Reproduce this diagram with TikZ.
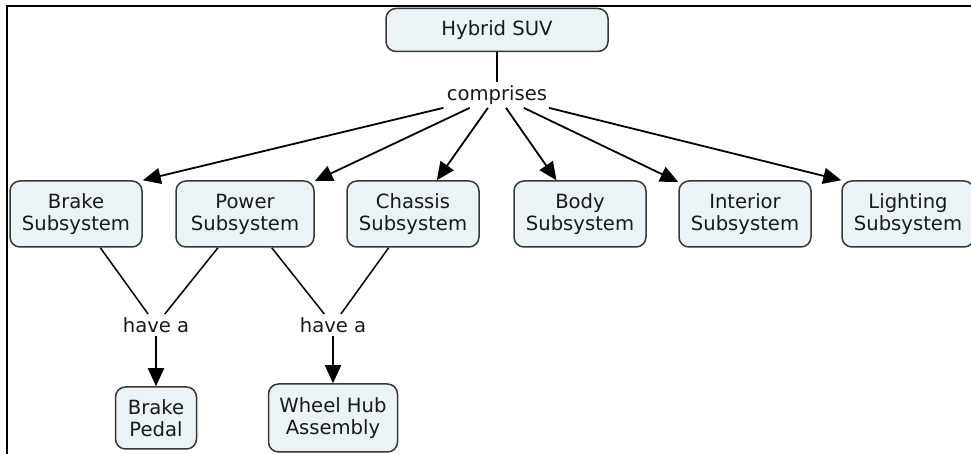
\documentclass[tikz,border=0pt]{standalone}
\usepackage{fontspec}
\setmainfont{DejaVu Sans}
\usepackage{tikz}
\usetikzlibrary{arrows.meta, positioning}
\newcommand{\conceptfont}{\fontsize{9.8}{11}\selectfont}
\tikzset{
    conceptnode/.style = {draw=bordergray, fill=conceptfill, rectangle, rounded corners=5pt, line width=0.75pt,
      inner sep=0pt, minimum width=66pt, minimum height=33pt, node distance=0em, font=\conceptfont, text=textgray},
    linknode/.style = {draw=none, fill=none, rectangle, inner sep=1.5pt, node distance=0em,
      font=\conceptfont, text=textgray},
    connect/.style = {black, line width=0.9pt, -{Triangle[length=9pt, width=8pt]}},
    plain/.style = {black, line width=0.75pt, -},
    every text node part/.style={align=center}
}
\definecolor{conceptfill}{RGB}{235, 243, 246}
\definecolor{bordergray}{RGB}{55, 55, 55}
\definecolor{textgray}{RGB}{25, 25, 25}

\begin{document}
\begin{tikzpicture}[x=0.5pt, y=-0.5pt, node distance=0em]
    \useasboundingbox (0,0) rectangle (971,454);
    \draw [line width=1pt] (7,454) -- (7,6) -- (971,6);

    \node [conceptnode, name=Hybrid, minimum width=111pt, minimum height=21.5pt] at (497,30) {Hybrid SUV};
    \node [linknode, name=comprises, below of=Hybrid, yshift=-32.5pt] {comprises};

    % subsystems
    \node [conceptnode, name=Brake, below of=Hybrid, xshift=-210.5pt, yshift=-92pt] {Brake\\Subsystem};
    \node [conceptnode, name=Power, below of=Hybrid, xshift=-126pt, yshift=-92pt, minimum width=69pt] {Power\\Subsystem};
    \node [conceptnode, name=Chassis, below of=Hybrid, xshift=-42pt, yshift=-92pt] {Chassis\\Subsystem};
    \node [conceptnode, name=Body, below of=Hybrid, xshift=41.5pt, yshift=-92pt] {Body\\Subsystem};
    \node [conceptnode, name=Interior, below of=Hybrid, xshift=124pt, yshift=-92pt] {Interior\\Subsystem};
    \node [conceptnode, name=Lighting, below of=Hybrid, xshift=205.5pt, yshift=-92pt] {Lighting\\Subsystem};

    % parts
    \node [linknode, name=haveBrake, below of=Hybrid, xshift=-170.5pt, yshift=-147.5pt] {have a};
    \node [linknode, name=haveHub, below of=Hybrid, xshift=-82pt, yshift=-147.5pt] {have a};
    \node [conceptnode, name=Pedal, below of=haveBrake, yshift=-46.5pt, minimum width=40.5pt, minimum height=31pt]
        {Brake\\Pedal};
    \node [conceptnode, name=Hub, below of=haveHub, yshift=-46.5pt, minimum width=64.5pt, minimum height=34pt]
        {Wheel Hub\\Assembly};

    \draw (Hybrid) edge[plain] (comprises);
    \draw (comprises) edge[connect] (Brake.north east);
    \draw (comprises) edge[connect] (Power);
    \draw (comprises) edge[connect] (Chassis);
    \draw (comprises) edge[connect] (Body);
    \draw (comprises) edge[connect] (Interior);
    \draw (comprises) edge[connect] (Lighting.north west);

    \draw (Brake) edge[plain] (haveBrake);
    \draw (Power) edge[plain] (haveBrake);
    \draw (Power) edge[plain] (haveHub);
    \draw (Chassis) edge[plain] (haveHub);
    \draw (haveBrake) edge[connect] (Pedal);
    \draw (haveHub) edge[connect] (Hub);
\end{tikzpicture}
\end{document}
